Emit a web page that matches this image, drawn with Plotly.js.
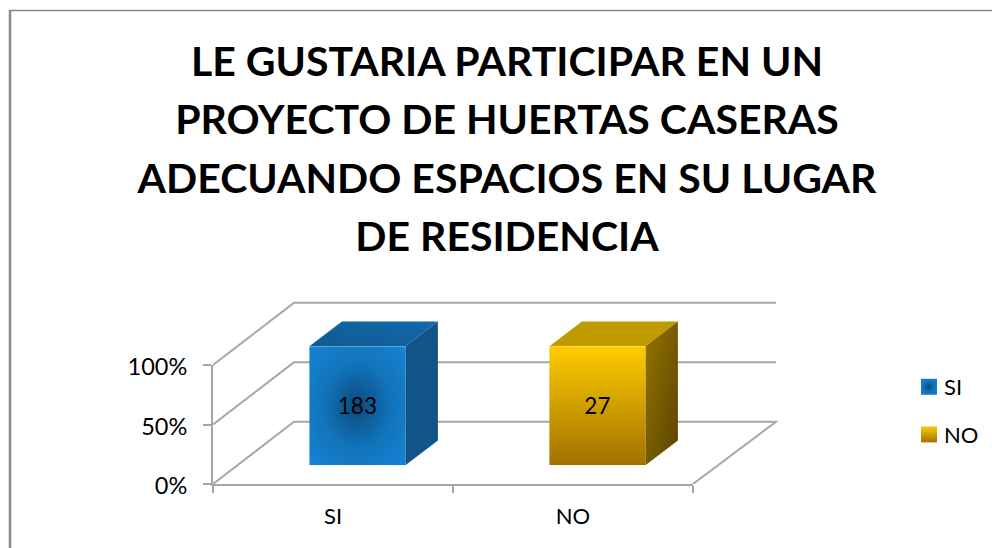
<!DOCTYPE html>
<html>
<head>
<meta charset="utf-8">
<script src="https://cdn.plot.ly/plotly-3.0.1.min.js"></script>
<style>html,body{margin:0;padding:0;background:#fff;overflow:hidden}</style>
</head>
<body>
<div id="chart" style="width:992px;height:548px"></div>
<script>
const titleLines = ["LE GUSTARIA PARTICIPAR EN UN","PROYECTO DE HUERTAS CASERAS","ADECUANDO ESPACIOS EN SU LUGAR","DE RESIDENCIA"];
const categories = ["SI","NO"];
const counts = [183,27];
const shares = [100,100];
const percentTicks = [0,50,100];
const percentLabels = ["0%","50%","100%"];

const W=992,H=548;
const xL=213,xR=693,yB=484,yT=365;
const pxPerCat=(xR-xL)/2, pxPerPct=(yB-yT)/100;
const fx=p=>p/W, fy=p=>1-p/H;
// oblique wall + bar depth, in data units of the wide hidden axes
const wallDx=81/pxPerCat, wallEndDx=83/pxPerCat, wallDy=62.3/pxPerPct;
const barW=96/pxPerCat, barShiftX=24.4/pxPerCat, barBase=18.7/pxPerPct;
const barDx=32.5/pxPerCat, barDy=24.7/pxPerPct;
const wideRight=790, wideTop=290;
const bodyFont="Lato, sans-serif";

const traces=[
  {type:"scatter",mode:"none",x:[0,1],y:shares,xaxis:"x",yaxis:"y",showlegend:false,hoverinfo:"skip"},
  {type:"scatter",mode:"none",x:categories,y:shares,xaxis:"x2",yaxis:"y2",showlegend:false,hoverinfo:"skip"}
];
categories.forEach((c,i)=>traces.push({
  type:"bar",name:c,x:[c],y:[shares[i]],width:[barW],
  text:[String(counts[i])],textposition:"inside",insidetextanchor:"middle",constraintext:"none",
  insidetextfont:{family:bodyFont,size:22.5,color:"#000"},
  marker:{color:["#1583d6","#ffcc00"][i],line:{width:0}},
  legendgroup:c,hoverinfo:"skip",xaxis:"x3",yaxis:"y3"
}));

const shapes=[];
const wall={color:"#a6a6a6",width:2};
percentTicks.forEach(v=>{
  let p=`M-0.5,${v}L${-0.5+wallDx},${v+wallDy}L${1.5+wallEndDx},${v+wallDy}`;
  if(v===0)p+=`L1.5,0`;
  shapes.push({type:"path",path:p,xref:"x",yref:"y",line:wall,layer:"below"});
});
const faceStart=shapes.length;
const topFill=["#10609c","#c09b00"], sideFill=["#105488","#7a5f00"];
categories.forEach((c,i)=>{
  const l=i+barShiftX-barW/2,r=l+barW,b=barBase,t=barBase+shares[i];
  shapes.push({type:"path",path:`M${l},${t}L${r},${t}L${r+barDx},${t+barDy}L${l+barDx},${t+barDy}Z`,xref:"x",yref:"y",fillcolor:topFill[i],line:{width:0},layer:"below"});
  shapes.push({type:"path",path:`M${r},${b}L${r},${t}L${r+barDx},${t+barDy}L${r+barDx},${b+barDy}Z`,xref:"x",yref:"y",fillcolor:sideFill[i],line:{width:0},layer:"below"});
});
// outer frame
shapes.push({type:"line",xref:"paper",yref:"paper",x0:fx(9),x1:1,y0:fy(10.5),y1:fy(10.5),line:{color:"#868686",width:1.5}});
shapes.push({type:"line",xref:"paper",yref:"paper",x0:fx(10),x1:fx(10),y0:fy(10),y1:0,line:{color:"#8c8c8c",width:2.5}});

const shift=barShiftX*pxPerCat, lift=barBase*pxPerPct;
const layout={
  width:W,height:H,margin:{l:0,r:0,t:0,b:0},paper_bgcolor:"#fff",plot_bgcolor:"rgba(0,0,0,0)",
  title:{text:titleLines.join("<br>"),x:507/W,xanchor:"center",xref:"paper",y:1-76/H,yref:"paper",yanchor:"top",
    font:{family:bodyFont,size:41,color:"#000",weight:700},automargin:false},
  barmode:"overlay",showlegend:true,
  legend:{x:904/W,xanchor:"left",y:1-366/H,yanchor:"top",tracegroupgap:16,
    font:{family:bodyFont,size:22,color:"#000"},bgcolor:"rgba(0,0,0,0)",itemclick:false},
  xaxis:{anchor:"y",range:[-0.5,-0.5+(wideRight-xL)/pxPerCat],domain:[fx(xL),fx(wideRight)],visible:false,fixedrange:true},
  yaxis:{anchor:"x",range:[0,(yB-wideTop)/pxPerPct],domain:[fy(yB),fy(wideTop)],visible:false,fixedrange:true},
  xaxis2:{type:"category",categoryorder:"array",categoryarray:categories,range:[-0.5,1.5],domain:[fx(xL),fx(xR)],anchor:"y2",
    tickson:"boundaries",ticks:"outside",ticklen:7,tickcolor:"#a6a6a6",tickwidth:2,showline:true,linecolor:"#a6a6a6",linewidth:2,
    showgrid:false,zeroline:false,tickfont:{family:bodyFont,size:22,color:"#000"},ticklabelstandoff:12,fixedrange:true},
  yaxis2:{range:[0,100],domain:[fy(yB),fy(yT)],anchor:"x2",tickmode:"array",tickvals:percentTicks,ticktext:percentLabels,
    ticks:"outside",ticklen:8,tickcolor:"#a6a6a6",tickwidth:2,showline:true,linecolor:"#a6a6a6",linewidth:2,
    showgrid:false,zeroline:false,tickfont:{family:bodyFont,size:23.5,color:"#000"},ticklabelstandoff:11,ticklabelshift:2,fixedrange:true},
  xaxis3:{type:"category",categoryorder:"array",categoryarray:categories,range:[-0.5,1.5],domain:[fx(xL+shift),fx(xR+shift)],anchor:"y3",visible:false,fixedrange:true},
  yaxis3:{range:[0,100],domain:[fy(yB-lift),fy(yT-lift)],anchor:"x3",visible:false,fixedrange:true},
  shapes:shapes
};

const NS="http://www.w3.org/2000/svg";
function grad(defs,kind,id,attrs,stops){
  const g=document.createElementNS(NS,kind);g.setAttribute("id",id);
  Object.entries(attrs).forEach(([k,v])=>g.setAttribute(k,v));
  stops.forEach(([o,c])=>{const s=document.createElementNS(NS,"stop");s.setAttribute("offset",o);s.setAttribute("stop-color",c);g.appendChild(s);});
  defs.appendChild(g);
}
Plotly.newPlot("chart",traces,layout,{staticPlot:true,displayModeBar:false}).then(gd=>{
  const defs=gd.querySelector("svg.main-svg defs");
  grad(defs,"radialGradient","gSI",{cx:"0.5",cy:"0.5",r:"0.72"},[[0,"#0a4674"],[0.18,"#0d5a94"],[0.5,"#1274ba"],[1,"#1684d8"]]);
  grad(defs,"linearGradient","gNO",{x1:"0",y1:"0",x2:"0",y2:"1"},[[0,"#ffcc00"],[1,"#a07200"]]);
  grad(defs,"linearGradient","gNOside",{x1:"0",y1:"0",x2:"1",y2:"1"},[[0,"#947400"],[1,"#5a4300"]]);
  grad(defs,"linearGradient","gSItop",{x1:"0",y1:"1",x2:"1",y2:"0"},[[0,"#0f5a92"],[1,"#1369aa"]]);
  const ids=["gSI","gNO"];
  gd.querySelectorAll(".barlayer .point path").forEach((p,i)=>p.style.setProperty("fill",`url(#${ids[i]})`));
  gd.querySelectorAll(".legend .traces").forEach((t,i)=>{
    const p=t.querySelector(".legendpoints path");
    if(p){p.setAttribute("d","M13,8H-3V-8H13Z");p.style.setProperty("fill",`url(#${ids[i]})`);}
  });
  const setShape=(idx,id)=>{const p=gd.querySelector(`.shapelayer path[data-index="${idx}"]`);if(p)p.style.setProperty("fill",`url(#${id})`);};
  setShape(faceStart,"gSItop");
  setShape(faceStart+3,"gNOside");
  // title line spacing of the reference
  gd.querySelectorAll(".gtitle tspan.line").forEach((l,i)=>l.setAttribute("dy",(i*58.3)+"px"));
});
</script>
</body>
</html>
